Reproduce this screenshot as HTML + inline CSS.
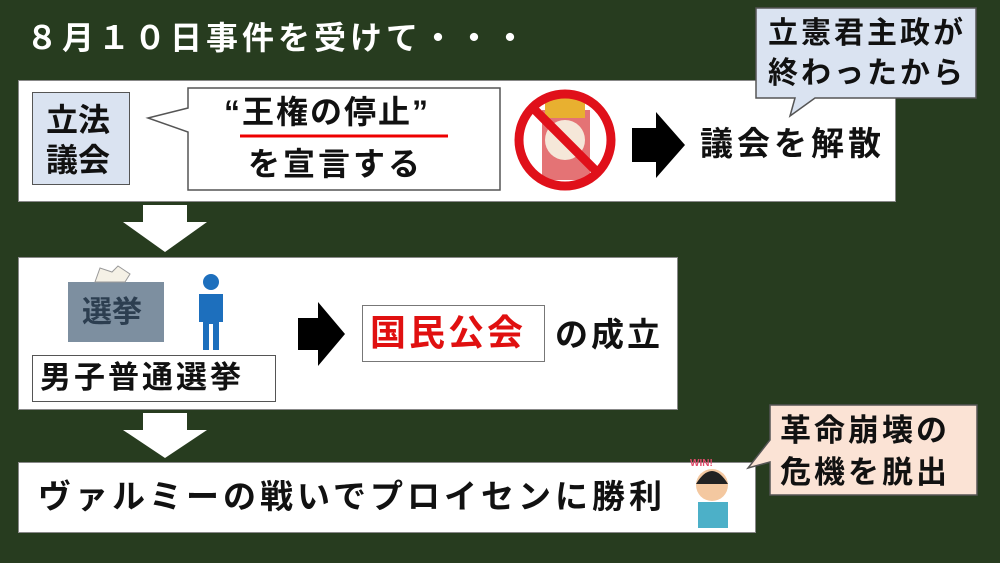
<!DOCTYPE html>
<html><head><meta charset="utf-8"><style>
*{margin:0;padding:0;box-sizing:border-box}
body{width:1000px;height:563px;background:#273c1f;position:relative;overflow:hidden;font-family:"Liberation Sans","Noto Sans CJK JP",sans-serif;font-weight:bold;color:#111}
.a{position:absolute}
.box{position:absolute;background:#fff;border:1px solid #888}
.t{position:absolute;white-space:nowrap;line-height:1}
</style></head><body>
<div class="t" style="left:26px;top:22px;font-size:32px;color:#fff;letter-spacing:4px">８月１０日事件を受けて・・・</div>

<div class="box" style="left:18px;top:80px;width:878px;height:122px"></div>
<div class="a" style="left:32px;top:92px;width:98px;height:93px;background:#dae3f1;border:1px solid #555"></div>
<div class="t" style="left:46px;top:100px;font-size:32px;line-height:40px">立法<br>議会</div>

<svg class="a" style="left:0;top:0" width="1000" height="563">
<path d="M188,88 H500 V190 H188 V132 L148,118 L188,108 Z" fill="#fff" stroke="#555" stroke-width="1.5"/>
<line x1="240" y1="136" x2="448" y2="136" stroke="#e00" stroke-width="3"/>
<path d="M756,8 H976 V98 H815 L790,116 L795,98 H756 Z" fill="#dae3f1" stroke="#555" stroke-width="1.5"/>
<path d="M770,405 H977 V495 H770 V462 L748,468 L770,440 Z" fill="#fbe3d5" stroke="#555" stroke-width="1.5"/>
<!-- no sign -->
<rect x="542" y="110" width="48" height="70" fill="#d8383a" opacity="0.7"/>
<rect x="545" y="98" width="40" height="20" fill="#e8b030"/>
<circle cx="565" cy="140" r="20" fill="#f5e7d9" />
<circle cx="565" cy="140" r="46" fill="none" stroke="#e0101a" stroke-width="9"/>
<line x1="533" y1="108" x2="597" y2="172" stroke="#e0101a" stroke-width="9"/>
<path d="M632,128 H656 V112 L685,145 L656,178 V162 H632 Z" fill="#000"/>
<!-- down arrows -->
<path d="M143,205 H187 V222 H207 L165,252 L123,222 H143 Z" fill="#fff"/>
<path d="M143,413 H187 V430 H207 L165,458 L123,430 H143 Z" fill="#fff"/>
<!-- ballot box -->
<rect x="68" y="282" width="96" height="60" fill="#7d8fa0"/>
<path d="M95,282 L100,268 L112,272 L118,266 L130,274 L125,282 Z" fill="#f5f1e6" stroke="#999"/>
<!-- person -->
<circle cx="211" cy="282" r="8" fill="#1d6fbd"/>
<path d="M199,294 H223 V322 H219 V350 H213 V324 H209 V350 H203 V322 H199 Z" fill="#1d6fbd"/>
<path d="M298,318 H318 V302 L345,334 L318,366 V350 H298 Z" fill="#000"/>
<!-- winner -->
<circle cx="712" cy="485" r="16" fill="#f4c8a0"/>
<path d="M696,484 Q712,458 728,484 Z" fill="#222"/>
<rect x="698" y="502" width="30" height="26" fill="#4cb0c8"/>
<text x="690" y="466" font-size="10" fill="#e04a6a" font-family="Liberation Sans">WIN!</text>
</svg>
<div class="t" style="left:224px;top:96px;font-size:32px;letter-spacing:2px">“王権の停止”</div>
<div class="t" style="left:248px;top:148px;font-size:32px;letter-spacing:3px">を宣言する</div>
<div class="t" style="left:700px;top:127px;font-size:33px;letter-spacing:4px">議会を解散</div>
<div class="t" style="left:768px;top:14px;font-size:30px;line-height:40px;letter-spacing:3px">立憲君主政が<br>終わったから</div>

<div class="box" style="left:18px;top:257px;width:660px;height:153px;z-index:-1"></div>
<div class="t" style="left:82px;top:298px;font-size:30px;color:#2c3e50">選挙</div>
<div class="a" style="left:32px;top:355px;width:244px;height:47px;background:#fff;border:1px solid #555"></div>
<div class="t" style="left:40px;top:362px;font-size:31px;letter-spacing:3px">男子普通選挙</div>
<div class="a" style="left:362px;top:305px;width:183px;height:57px;border:1px solid #777"></div>
<div class="t" style="left:370px;top:315px;font-size:36px;color:#e01010;letter-spacing:3px">国民公会</div>
<div class="t" style="left:555px;top:318px;font-size:33px;letter-spacing:3px">の成立</div>

<div class="box" style="left:18px;top:462px;width:738px;height:71px;z-index:-1"></div>
<div class="t" style="left:38px;top:480px;font-size:33px;letter-spacing:4px">ヴァルミーの戦いでプロイセンに勝利</div>
<div class="t" style="left:780px;top:410px;font-size:31px;line-height:42px;letter-spacing:3px">革命崩壊の<br>危機を脱出</div>
</body></html>
